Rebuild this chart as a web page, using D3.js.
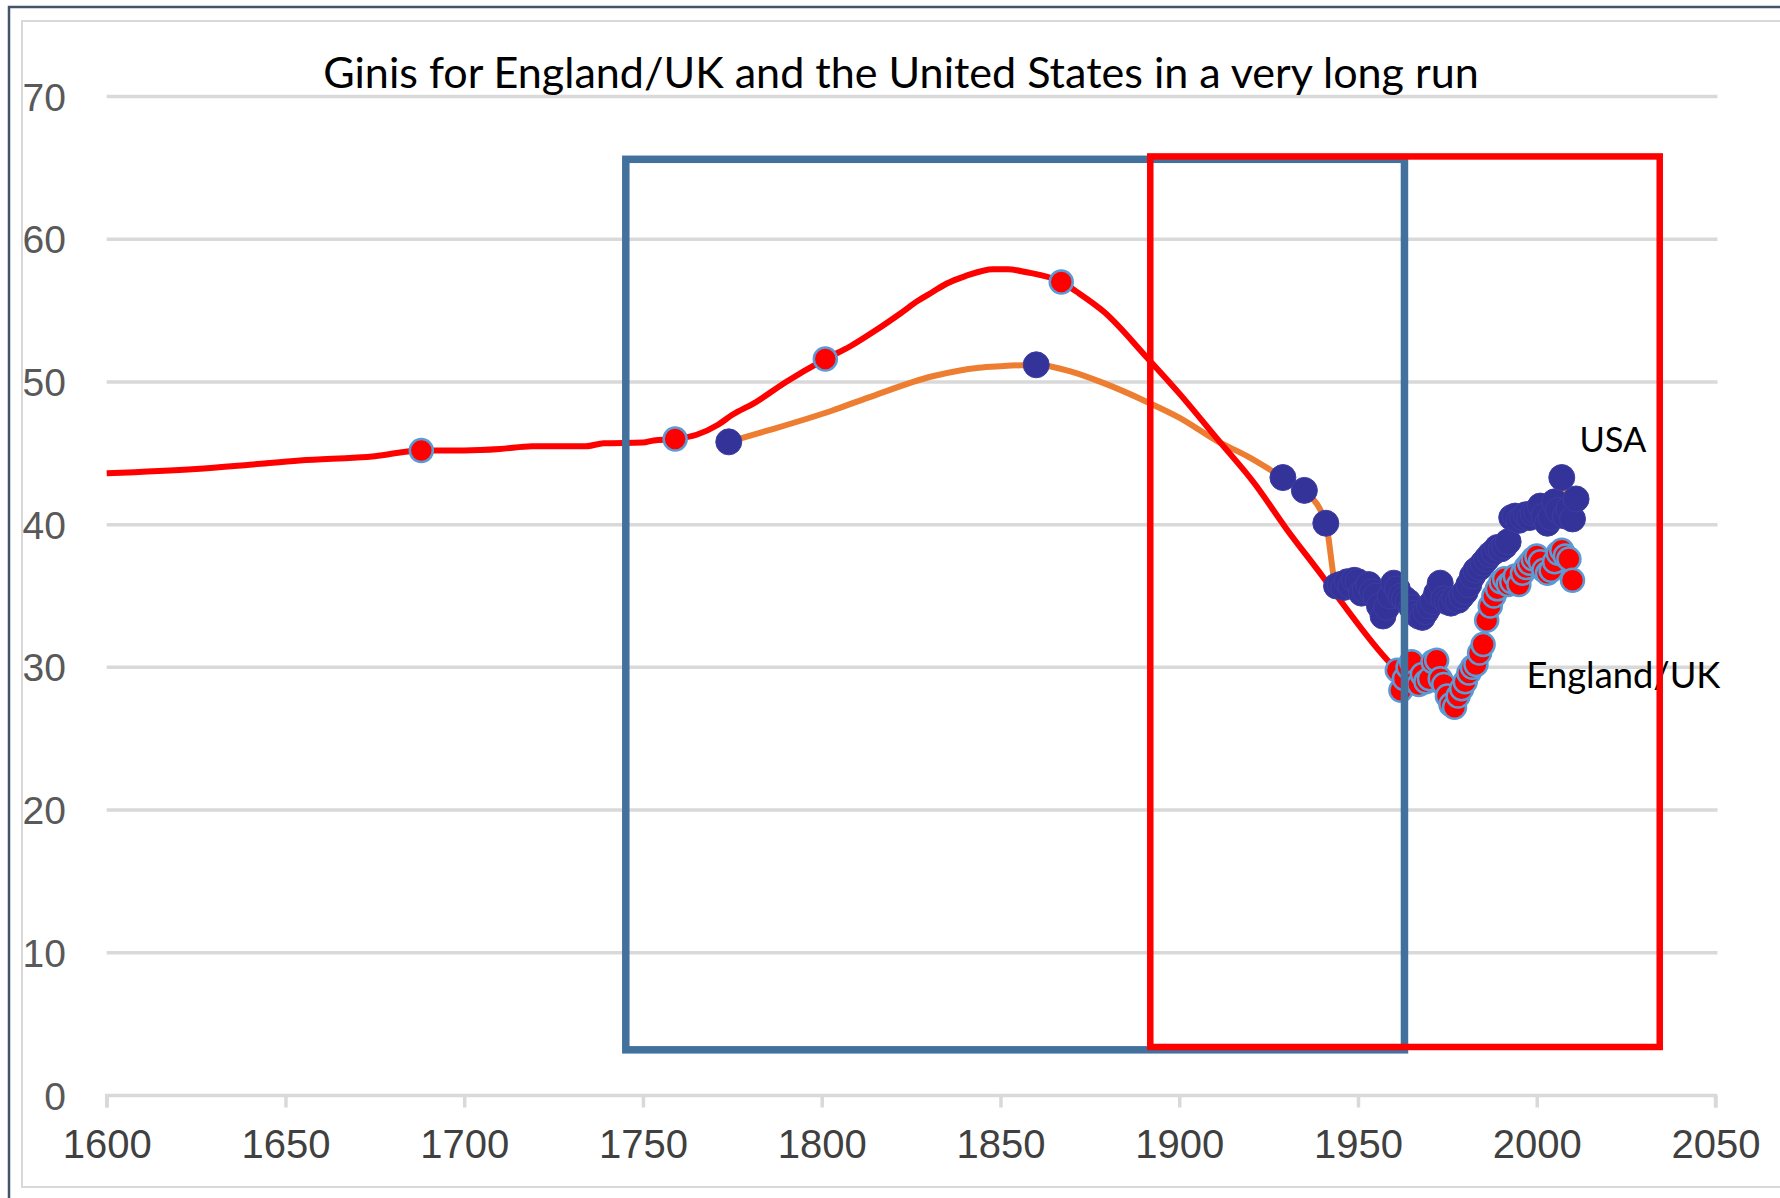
<!DOCTYPE html>
<html>
<head>
<meta charset="utf-8">
<script src="https://cdn.jsdelivr.net/npm/d3@7"></script>
<style>
  html, body { margin: 0; padding: 0; background: #fff; }
  svg { display: block; }
</style>
</head>
<body>
<svg id="chart" width="1780" height="1198"></svg>
<script>
// --- data ---
var xTicks = [1600, 1650, 1700, 1750, 1800, 1850, 1900, 1950, 2000, 2050];
var yTicks = [0, 10, 20, 30, 40, 50, 60, 70];

// England/UK: interpolated long-run line (no markers)
var ukLineYears = [1600, 1625, 1640, 1654, 1675, 1700, 1710, 1719, 1734, 1739, 1750, 1753,
  1765, 1771, 1775, 1781, 1790, 1808, 1815, 1822, 1827, 1831, 1835, 1840, 1848, 1852, 1857,
  1872, 1879, 1891, 1900, 1911, 1921, 1930, 1940, 1945, 1959];
var ukLineVals = [43.6, 43.9, 44.2, 44.5, 44.8, 45.2, 45.3, 45.5, 45.5, 45.7, 45.75, 45.9,
  46.3, 47.0, 47.7, 48.5, 50.0, 52.5, 53.6, 54.8, 55.7, 56.3, 56.9, 57.4, 57.9, 57.9, 57.7,
  56.2, 54.9, 51.7, 49.2, 45.9, 42.9, 39.7, 36.4, 34.7, 30.3];
// England/UK: observed points (markers)
var ukYears = [1688, 1759, 1801, 1867,
  1961, 1962, 1963, 1964, 1965, 1966, 1967, 1968, 1969, 1970, 1971, 1972, 1973, 1974, 1975,
  1976, 1977, 1978, 1979, 1980, 1981, 1982, 1983, 1984, 1985, 1986, 1987, 1988, 1989, 1990,
  1991, 1992, 1993, 1994, 1995, 1996, 1997, 1998, 1999, 2000, 2001, 2002, 2003, 2004, 2005,
  2006, 2007, 2008, 2009, 2010];
var ukVals = [45.2, 46.0, 51.6, 57.0,
  29.8, 28.4, 29.2, 30.0, 30.4, 29.0, 28.8, 29.5, 29.0, 29.2, 30.4, 30.5, 29.2, 28.8, 28.0,
  27.4, 27.2, 28.0, 28.5, 29.0, 29.6, 30.0, 30.2, 31.0, 31.6, 33.3, 34.3, 35.0, 35.5, 36.0,
  36.2, 35.8, 36.0, 36.4, 35.8, 36.6, 37.0, 37.3, 37.6, 37.8, 37.4, 36.8, 36.6, 36.8, 37.4,
  38.0, 38.2, 37.8, 37.6, 36.1];

// USA: interpolated line nodes (no markers)
var usLineYears = [1785, 1803, 1813, 1831, 1844, 1850, 1870, 1878, 1891, 1900, 1911, 1919];
var usLineVals = [46.6, 48.0, 48.9, 50.4, 51.0, 51.1, 50.7, 50.0, 48.6, 47.5, 45.8, 44.8];
// USA: observed points (markers)
var usYears = [1774, 1860, 1929, 1935, 1941,
  1944, 1945, 1946, 1947, 1948, 1949, 1950, 1951, 1952, 1953, 1954, 1955, 1956, 1957, 1958,
  1959, 1960, 1961, 1962, 1963, 1964, 1965, 1966, 1967, 1968, 1969, 1970, 1971, 1972, 1973,
  1974, 1975, 1976, 1977, 1978, 1979, 1980, 1981, 1982, 1983, 1984, 1985, 1986, 1987, 1988,
  1989, 1990, 1991, 1992, 1993, 1994, 1995, 1996, 1997, 1998, 1999, 2000, 2001, 2002, 2003,
  2004, 2005, 2006, 2007, 2008, 2009, 2010, 2011];
var usVals = [45.8, 51.2, 43.3, 42.4, 40.1,
  35.7, 35.8, 35.6, 36.0, 35.7, 36.1, 36.0, 35.2, 35.4, 35.8, 35.3, 35.0, 34.3, 33.6, 34.2,
  35.0, 35.9, 35.5, 35.0, 34.8, 34.6, 34.2, 33.8, 33.6, 33.5, 33.9, 34.3, 34.6, 35.2, 35.9,
  34.8, 34.6, 34.5, 34.8, 34.7, 35.0, 35.3, 35.8, 36.4, 36.8, 37.0, 37.3, 37.6, 37.9, 38.1,
  38.4, 38.3, 38.5, 38.8, 40.5, 40.6, 40.3, 40.5, 40.7, 40.5, 40.8, 40.9, 41.3, 40.6, 40.1,
  40.5, 41.6, 41.0, 43.3, 40.6, 41.1, 40.4, 41.8];

// annotation boxes: [year from, year to, gini from, gini to]
var blueBox = [1745.2, 1963.0, 3.2, 65.6];
var redBox = [1891.9, 2034.4, 3.4, 65.8];

var title = "Ginis for England/UK and the United States in a very long run";

// --- drawing ---
var svg = d3.select("#chart");
var W = 1780, H = 1198;

var x = d3.scaleLinear().domain([1600, 2050]).range([106.7, 1715.5]);
var y = d3.scaleLinear().domain([0, 70]).range([1095.5, 96.5]);

// chart frame
svg.append("rect").attr("x", 9).attr("y", 7).attr("width", W + 20).attr("height", H + 20)
  .attr("fill", "#fff").attr("stroke", "#44546a").attr("stroke-width", 2.5);
svg.append("rect").attr("x", 22).attr("y", 21).attr("width", W + 20).attr("height", 1166)
  .attr("fill", "none").attr("stroke", "#d9d9d9").attr("stroke-width", 2);

// gridlines
svg.append("g").selectAll("line").data(yTicks.filter(function(d) { return d > 0; }))
  .enter().append("line")
  .attr("x1", x(1600)).attr("x2", x(2050) + 2)
  .attr("y1", function(d) { return y(d); }).attr("y2", function(d) { return y(d); })
  .attr("stroke", "#d9d9d9").attr("stroke-width", 3.5);

// x axis
var xAxis = svg.append("g").attr("transform", "translate(0," + y(0) + ")")
  .call(d3.axisBottom(x).tickValues(xTicks).tickFormat(d3.format("d")).tickSize(12).tickPadding(22));
xAxis.select(".domain").attr("stroke", "#d9d9d9").attr("stroke-width", 3.5)
  .attr("d", "M" + x(1600) + ",12V0H" + x(2050) + "V12");
xAxis.selectAll(".tick line").attr("stroke", "#d9d9d9").attr("stroke-width", 3.5);
xAxis.selectAll(".tick text").attr("font-family", "Liberation Sans, Arial, sans-serif")
  .attr("font-size", 40).attr("fill", "#404040");

// y axis labels
svg.append("g").selectAll("text").data(yTicks).enter().append("text")
  .attr("x", 66).attr("y", function(d) { return y(d); }).attr("dy", "0.36em")
  .attr("text-anchor", "end")
  .attr("font-family", "Liberation Sans, Arial, sans-serif").attr("font-size", 39)
  .attr("fill", "#595959")
  .text(function(d) { return d; });

function zipPts(years, vals) {
  return years.map(function(yr, i) { return [yr, vals[i]]; });
}
var ukPts = zipPts(ukYears, ukVals);
var usPts = zipPts(usYears, usVals);
var ukLine = zipPts(ukLineYears, ukLineVals).concat(ukPts).sort(function(a, b) { return a[0] - b[0]; });
var usLine = zipPts(usLineYears, usLineVals).concat(usPts).sort(function(a, b) { return a[0] - b[0]; });

var line = d3.line()
  .x(function(d) { return x(d[0]); })
  .y(function(d) { return y(d[1]); })
  .curve(d3.curveMonotoneX);

svg.append("path").datum(usLine).attr("d", line)
  .attr("fill", "none").attr("stroke", "#ed7d31").attr("stroke-width", 6)
  .attr("stroke-linejoin", "round");
svg.append("path").datum(ukLine).attr("d", line)
  .attr("fill", "none").attr("stroke", "#ff0000").attr("stroke-width", 6)
  .attr("stroke-linejoin", "round");

// markers
svg.append("g").selectAll("circle").data(usPts).enter().append("circle")
  .attr("cx", function(d) { return x(d[0]); }).attr("cy", function(d) { return y(d[1]); })
  .attr("r", 13).attr("fill", "#333399").attr("stroke", "#3d3da3").attr("stroke-width", 1);
svg.append("g").selectAll("circle").data(ukPts).enter().append("circle")
  .attr("cx", function(d) { return x(d[0]); }).attr("cy", function(d) { return y(d[1]); })
  .attr("r", 11.5).attr("fill", "#ff0000").attr("stroke", "#5b9bd5").attr("stroke-width", 2.5);

// text helper: fit font size to a measured target width
function fitText(t, width) {
  var w = t.node().getComputedTextLength();
  var fs = +t.attr("font-size");
  t.attr("font-size", fs * width / w);
}

var tt = svg.append("text").attr("x", 901).attr("y", 88).attr("text-anchor", "middle")
  .attr("font-family", "Lato, 'Open Sans', sans-serif").attr("font-size", 44)
  .attr("fill", "#000").text(title);
fitText(tt, 1156);

var usaLbl = svg.append("text").attr("x", 1579.5).attr("y", 452)
  .attr("font-family", "Lato, 'Open Sans', sans-serif").attr("font-size", 36)
  .attr("fill", "#000").text("USA");
fitText(usaLbl, 67);

var ukLbl = svg.append("text").attr("x", 1526.5).attr("y", 688)
  .attr("font-family", "Lato, 'Open Sans', sans-serif").attr("font-size", 36)
  .attr("fill", "#000").text("England/UK");
fitText(ukLbl, 194);

// annotation boxes on top
function box(b, color, sw) {
  svg.append("rect")
    .attr("x", x(b[0])).attr("y", y(b[3]))
    .attr("width", x(b[1]) - x(b[0])).attr("height", y(b[2]) - y(b[3]))
    .attr("fill", "none").attr("stroke", color).attr("stroke-width", sw);
}
box(blueBox, "#41719c", 7.5);
box(redBox, "#ff0000", 6.5);
</script>
</body>
</html>
